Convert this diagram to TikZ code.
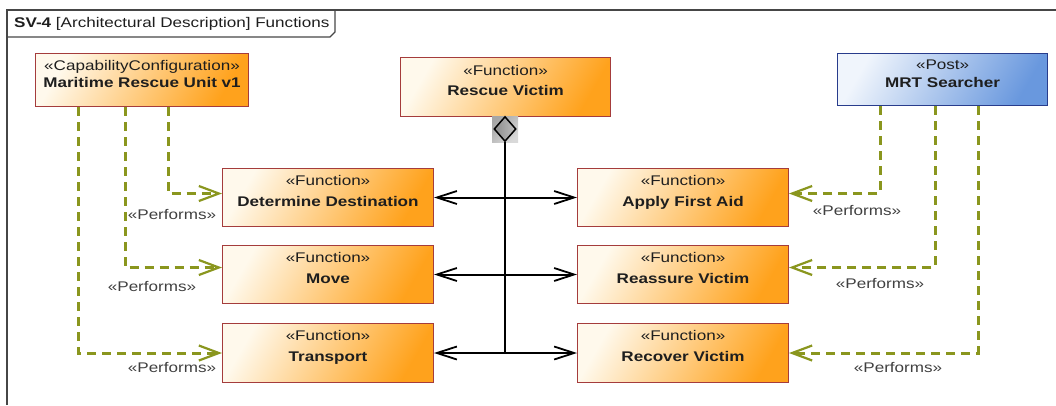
\documentclass[tikz,border=0pt]{standalone}
\usepackage{fontspec}
\setmainfont{Liberation Sans}[FakeStretch=1.22]
\usetikzlibrary{arrows.meta,shapes.geometric}
\definecolor{perfcol}{RGB}{138,150,30}
\definecolor{orlight}{RGB}{255,249,236}
\definecolor{ormid}{RGB}{255,212,135}
\definecolor{ordark}{RGB}{255,162,28}
\definecolor{orborder}{RGB}{165,60,60}
\definecolor{bllight}{RGB}{240,245,252}
\definecolor{blmid}{RGB}{188,210,240}
\definecolor{bldark}{RGB}{105,152,222}
\definecolor{blborder}{RGB}{40,60,140}
\definecolor{txtcol}{RGB}{30,30,30}
\definecolor{framecol}{RGB}{70,70,70}
\tikzset{
  fbox/.style={draw=orborder, line width=1pt, left color=orlight, middle color=ormid, right color=ordark, shading angle=60, inner sep=0pt, anchor=north west},
  pbox/.style={draw=blborder, line width=1.2pt, left color=bllight, middle color=blmid, right color=bldark, shading angle=60, inner sep=0pt, anchor=north west},
  ftext/.style={align=center, inner sep=0pt, anchor=north, text=txtcol},
  perf/.style={draw=perfcol, line width=3pt, dash pattern=on 9pt off 6pt, -{Straight Barb[length=20pt,width=15pt,line width=2.2pt]}},
  perflbl/.style={text=txtcol!85, inner sep=0pt},
  assoc/.style={draw=black, line width=2pt, {Straight Barb[length=20pt,width=13pt,line width=1.8pt]}-{Straight Barb[length=20pt,width=13pt,line width=1.8pt]}},
}
\begin{document}
\begin{tikzpicture}[x=1pt,y=-1pt, font=\fontsize{14}{17}\selectfont]
\useasboundingbox (0,0) rectangle (1056,405);
% frame
\draw[framecol, line width=1.5pt] (7,405) -- (7,10) -- (1056,10);
\draw[framecol, line width=1.2pt] (7,37) -- (330,37) -- (335,32) -- (335,10);
\node[anchor=west, inner sep=0pt, text=txtcol] (title) at (14,24) {\textbf{SV-4} [Architectural Description] Functions};

% top boxes
\node[fbox, minimum width=213pt, minimum height=53pt] (mru) at (35,53) {};
\node[ftext] (mru-t) at ([yshift=-7pt]mru.north) {«CapabilityConfiguration»\\[0pt]\textbf{Maritime Rescue Unit v1}};
\node[fbox, minimum width=210pt, minimum height=59pt] (rv) at (400,57) {};
\node[ftext] (rv-t) at ([yshift=-8pt]rv.north) {«Function»\\[3pt]\textbf{Rescue Victim}};
\node[pbox, minimum width=210pt, minimum height=52pt] (mrt) at (837,53) {};
\node[ftext] (mrt-t) at ([yshift=-7pt]mrt.north) {«Post»\\[1pt]\textbf{MRT Searcher}};

% function boxes left
\node[fbox, minimum width=211pt, minimum height=58pt] (dd) at (222,168) {};
\node[ftext] (dd-t) at ([yshift=-7pt]dd.north) {«Function»\\[4pt]\textbf{Determine Destination}};
\node[fbox, minimum width=211pt, minimum height=58pt] (mv) at (222,245) {};
\node[ftext] (mv-t) at ([yshift=-7pt]mv.north) {«Function»\\[4pt]\textbf{Move}};
\node[fbox, minimum width=211pt, minimum height=59pt] (tr) at (222,323) {};
\node[ftext] (tr-t) at ([yshift=-7pt]tr.north) {«Function»\\[4pt]\textbf{Transport}};

% function boxes right
\node[fbox, minimum width=211pt, minimum height=58pt] (afa) at (577,168) {};
\node[ftext] (afa-t) at ([yshift=-7pt]afa.north) {«Function»\\[4pt]\textbf{Apply First Aid}};
\node[fbox, minimum width=211pt, minimum height=58pt] (rsv) at (577,245) {};
\node[ftext] (rsv-t) at ([yshift=-7pt]rsv.north) {«Function»\\[4pt]\textbf{Reassure Victim}};
\node[fbox, minimum width=211pt, minimum height=59pt] (rcv) at (577,323) {};
\node[ftext] (rcv-t) at ([yshift=-7pt]rcv.north) {«Function»\\[4pt]\textbf{Recover Victim}};

% composition diamond
\node[rectangle, inner sep=0pt, minimum size=26pt, left color=gray!70, right color=gray!30, shading angle=45] (dsq) at (505,129) {};
\node[diamond, draw=black, line width=1.5pt, inner sep=0pt, minimum width=22pt, minimum height=25pt, left color=gray!90, right color=gray!50] (dia) at (dsq.center) {};
\coordinate (jn) at (dia.south |- tr.east);
\draw[black, line width=2pt] (dia.south) -- (jn);

% associations
\draw[assoc] (dd.east) -- (afa.west);
\draw[assoc] (mv.east) -- (rsv.west);
\draw[assoc] (tr.east) -- (rcv.west);

% performs left
\draw[perf] ([xshift=133pt]mru.south west) |- ([yshift=4pt]dd.west);
\draw[perf] ([xshift=90pt]mru.south west) |- ([yshift=7pt]mv.west);
\draw[perf] ([xshift=43pt]mru.south west) |- (tr.west);
\node[perflbl] (pl1) at (172,214) {«Performs»};
\node[perflbl] (pl2) at (152,286) {«Performs»};
\node[perflbl] (pl3) at (172,367) {«Performs»};

% performs right
\draw[perf] ([xshift=43pt]mrt.south west) |- ([yshift=4pt]afa.east);
\draw[perf] ([xshift=98pt]mrt.south west) |- ([yshift=7pt]rsv.east);
\draw[perf] ([xshift=141pt]mrt.south west) |- (rcv.east);
\node[perflbl] (pr1) at (857,210) {«Performs»};
\node[perflbl] (pr2) at (880,283) {«Performs»};
\node[perflbl] (pr3) at (898,367) {«Performs»};
\end{tikzpicture}
\end{document}
